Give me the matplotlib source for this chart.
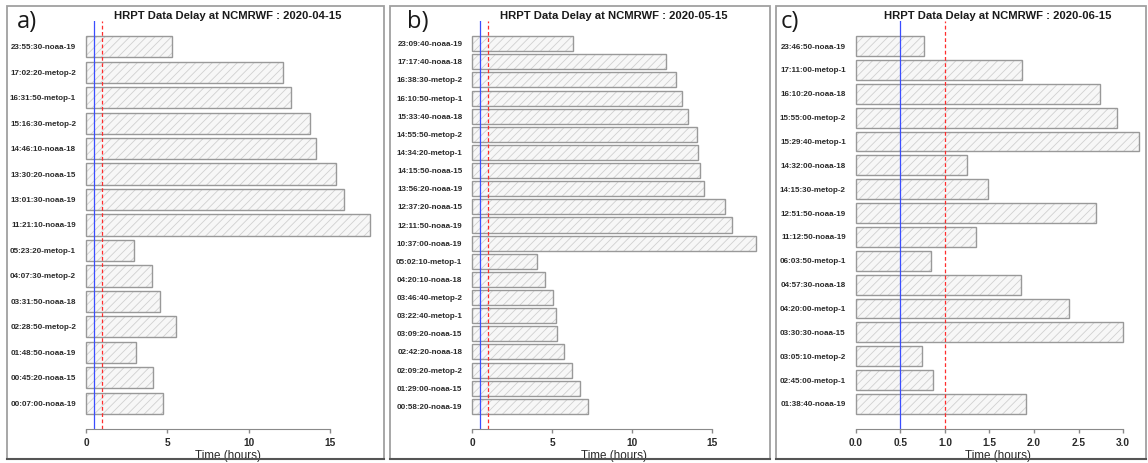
import matplotlib
matplotlib.use("Agg")
import matplotlib.pyplot as plt
import matplotlib.transforms as mtransforms
from matplotlib.patches import Rectangle
from matplotlib.lines import Line2D

# HRPT data delay (hours) per pass, listed top to bottom as in the figure

labels_a = ["23:55:30-noaa-19", "17:02:20-metop-2", "16:31:50-metop-1", "15:16:30-metop-2",
            "14:46:10-noaa-18", "13:30:20-noaa-15", "13:01:30-noaa-19", "11:21:10-noaa-19",
            "05:23:20-metop-1", "04:07:30-metop-2", "03:31:50-noaa-18", "02:28:50-metop-2",
            "01:48:50-noaa-19", "00:45:20-noaa-15", "00:07:00-noaa-19"]
delay_a = [5.29, 12.13, 12.62, 13.75, 14.14, 15.35, 15.82, 17.42,
           2.93, 4.08, 4.55, 5.55, 3.07, 4.10, 4.73]

labels_b = ["23:09:40-noaa-19", "17:17:40-noaa-18", "16:38:30-metop-2", "16:10:50-metop-1",
            "15:33:40-noaa-18", "14:55:50-metop-2", "14:34:20-metop-1", "14:15:50-noaa-15",
            "13:56:20-noaa-19", "12:37:20-noaa-15", "12:11:50-noaa-19", "10:37:00-noaa-19",
            "05:02:10-metop-1", "04:20:10-noaa-18", "03:46:40-metop-2", "03:22:40-metop-1",
            "03:09:20-noaa-15", "02:42:20-noaa-18", "02:09:20-metop-2", "01:29:00-noaa-15",
            "00:58:20-noaa-19"]
delay_b = [6.33, 12.16, 12.78, 13.12, 13.53, 14.06, 14.12, 14.25, 14.54, 15.83, 16.25, 17.76,
           4.07, 4.57, 5.08, 5.24, 5.31, 5.73, 6.23, 6.77, 7.23]

labels_c = ["23:46:50-noaa-19", "17:11:00-metop-1", "16:10:20-noaa-18", "15:55:00-metop-2",
            "15:29:40-metop-1", "14:32:00-noaa-18", "14:15:30-metop-2", "12:51:50-noaa-19",
            "11:12:50-noaa-19", "06:03:50-metop-1", "04:57:30-noaa-18", "04:20:00-metop-1",
            "03:30:30-noaa-15", "03:05:10-metop-2", "02:45:00-metop-1", "01:38:40-noaa-19"]
delay_c = [0.77, 1.86, 2.74, 2.93, 3.18, 1.25, 1.48, 2.69,
           1.35, 0.84, 1.85, 2.39, 3.00, 0.74, 0.87, 1.91]

ticks_ab = [0, 5, 10, 15]
ticks_c = [0.0, 0.5, 1.0, 1.5, 2.0, 2.5, 3.0]
dates = ["2020-04-15", "2020-05-15", "2020-06-15"]
letters = ["a)", "b)", "c)"]

plt.rcParams["font.family"] = ["Liberation Sans", "DejaVu Sans"]
plt.rcParams["hatch.linewidth"] = 0.6

fig = plt.figure(figsize=(11.48, 4.64), dpi=100)
W, H = 1148.0, 464.0


def panel(ax, labels, delays, ticks, ticklabels, date):
    n = len(delays)
    vals = delays[::-1]
    labs = labels[::-1]
    # R barplot style positions: space 0.2, width 1
    ypos = [0.7 + 1.2 * i for i in range(n)]
    span = 1.2 * n - 0.2
    ax.barh(ypos, vals, height=1.0, left=0, color="#f7f7f7", edgecolor="#d0d0d0",
            hatch="////", linewidth=0)
    ax.barh(ypos, vals, height=1.0, left=0, color="none", edgecolor="#999999", linewidth=1.0)
    vmax = max(vals)
    ax.set_xlim(-0.04 * vmax, 1.04 * vmax)
    ax.set_ylim(0.2 - 0.04 * span, 1.2 * n + 0.04 * span)
    ax.axvline(0.5, color="#3a4dff", lw=0.9)
    ax.axvline(1.0, color="#ff2d2d", lw=0.9, ls=(0, (3, 2)))
    off = mtransforms.offset_copy(ax.transData, fig=fig, x=-10, y=0, units="dots")
    for y, lab in zip(ypos, labs):
        ax.text(0, y, lab, transform=off, ha="right", va="center", fontsize=5.8,
                fontweight="bold", color="#2a2a2a")
    for s in ["left", "top", "right"]:
        ax.spines[s].set_visible(False)
    ax.spines["bottom"].set_bounds(ticks[0], ticks[-1])
    ax.spines["bottom"].set_color("#8a8a8a")
    ax.set_yticks([])
    ax.set_xticks(ticks)
    ax.set_xticklabels(ticklabels, fontsize=7.3, fontweight="bold", color="#2a2a2a")
    ax.tick_params(axis="x", length=3, width=1, color="#8a8a8a", pad=3)
    ax.set_xlabel("Time (hours)", fontsize=8.4, color="#2a2a2a", labelpad=1)
    ax.text(0.5, 1.0155, "HRPT Data Delay at NCMRWF : " + date, transform=ax.transAxes,
            ha="center", va="center", fontsize=8.1, fontweight="bold", color="#1a1a1a")


ax_left = [74.7, 461.0, 844.4]
ax_w = 306.2
ax_bottom = 1 - 430 / H
ax_h = 408 / H

data = [(labels_a, delay_a, ticks_ab, [str(t) for t in ticks_ab]),
        (labels_b, delay_b, ticks_ab, [str(t) for t in ticks_ab]),
        (labels_c, delay_c, ticks_c, ["%.1f" % t for t in ticks_c])]

for k in range(3):
    ax = fig.add_axes([ax_left[k] / W, ax_bottom, ax_w / W, ax_h])
    labs, vals, tk, tl = data[k]
    panel(ax, labs, vals, tk, tl, dates[k])

# panel frames
boxes = [(7, 384), (390, 770), (776, 1146)]
for (x0, x1) in boxes:
    fig.patches.append(Rectangle((x0 / W, 1 - 460 / H), (x1 - x0) / W, 453 / H,
                                 transform=fig.transFigure, fill=False,
                                 edgecolor="#a0a0a0", lw=1.3))
    fig.lines.append(Line2D([x0 / W, x1 / W], [1 - 460 / H, 1 - 460 / H],
                            transform=fig.transFigure, color="#555555", lw=1.5))

letter_x = [17, 407, 781]
for lx, letter in zip(letter_x, letters):
    fig.text(lx / W, 1 - 22 / H, letter, ha="left", va="center", fontsize=17,
             family=["Open Sans", "DejaVu Sans"], color="#1a1a1a")

fig.savefig("out.png", dpi=100)
